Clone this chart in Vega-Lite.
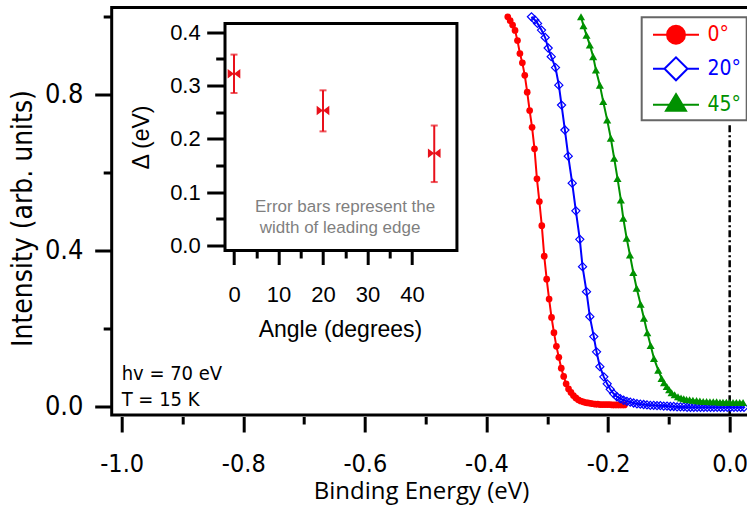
{
"$schema": "https://vega.github.io/schema/vega-lite/v6.json",
"width": 640, "height": 407.5,
"autosize": {"type": "none"},
"padding": {"left": 111.7, "top": 7.5, "right": 0, "bottom": 93},
"background": "white",
"config": {
 "view": {"stroke": "black", "strokeWidth": 3},
 "axis": {"domain": false, "grid": false, "labelFlush": false, "labelOverlap": false, "tickColor": "black", "tickWidth": 3, "labelColor": "black", "titleColor": "black", "titleFontWeight": "normal"}
},
"layer": [
 {
  "data": {"values": [
{"series":"0°","E":-0.365,"I":0.998},{"series":"0°","E":-0.361,"I":0.988},{"series":"0°","E":-0.357,"I":0.977},{"series":"0°","E":-0.353,"I":0.963},{"series":"0°","E":-0.349,"I":0.937},{"series":"0°","E":-0.345,"I":0.904},{"series":"0°","E":-0.341,"I":0.880},{"series":"0°","E":-0.337,"I":0.848},{"series":"0°","E":-0.333,"I":0.805},{"series":"0°","E":-0.329,"I":0.758},{"series":"0°","E":-0.325,"I":0.715},{"series":"0°","E":-0.321,"I":0.660},{"series":"0°","E":-0.317,"I":0.583},{"series":"0°","E":-0.313,"I":0.525},{"series":"0°","E":-0.309,"I":0.463},{"series":"0°","E":-0.305,"I":0.385},{"series":"0°","E":-0.301,"I":0.326},{"series":"0°","E":-0.297,"I":0.275},{"series":"0°","E":-0.293,"I":0.228},{"series":"0°","E":-0.289,"I":0.189},{"series":"0°","E":-0.285,"I":0.154},{"series":"0°","E":-0.281,"I":0.126},{"series":"0°","E":-0.277,"I":0.098},{"series":"0°","E":-0.273,"I":0.077},{"series":"0°","E":-0.269,"I":0.058},{"series":"0°","E":-0.265,"I":0.045},{"series":"0°","E":-0.261,"I":0.036},{"series":"0°","E":-0.257,"I":0.028},{"series":"0°","E":-0.253,"I":0.022},{"series":"0°","E":-0.249,"I":0.017},{"series":"0°","E":-0.245,"I":0.014},{"series":"0°","E":-0.241,"I":0.012},{"series":"0°","E":-0.237,"I":0.010},{"series":"0°","E":-0.233,"I":0.009},{"series":"0°","E":-0.229,"I":0.008},{"series":"0°","E":-0.225,"I":0.007},{"series":"0°","E":-0.221,"I":0.006},{"series":"0°","E":-0.217,"I":0.006},{"series":"0°","E":-0.213,"I":0.005},{"series":"0°","E":-0.209,"I":0.005},{"series":"0°","E":-0.205,"I":0.005},{"series":"0°","E":-0.201,"I":0.005},{"series":"0°","E":-0.197,"I":0.005},{"series":"0°","E":-0.193,"I":0.004},{"series":"0°","E":-0.189,"I":0.004},{"series":"0°","E":-0.185,"I":0.004},{"series":"0°","E":-0.181,"I":0.004},{"series":"0°","E":-0.177,"I":0.004},{"series":"0°","E":-0.173,"I":0.004},
{"series":"20°","E":-0.326,"I":0.998},{"series":"20°","E":-0.3205,"I":0.990},{"series":"20°","E":-0.316,"I":0.981},{"series":"20°","E":-0.3095,"I":0.964},{"series":"20°","E":-0.3035,"I":0.945},{"series":"20°","E":-0.2985,"I":0.918},{"series":"20°","E":-0.2935,"I":0.896},{"series":"20°","E":-0.2865,"I":0.868},{"series":"20°","E":-0.281,"I":0.823},{"series":"20°","E":-0.2765,"I":0.772},{"series":"20°","E":-0.271,"I":0.708},{"series":"20°","E":-0.2655,"I":0.641},{"series":"20°","E":-0.259,"I":0.572},{"series":"20°","E":-0.253,"I":0.501},{"series":"20°","E":-0.2465,"I":0.428},{"series":"20°","E":-0.242,"I":0.358},{"series":"20°","E":-0.2355,"I":0.294},{"series":"20°","E":-0.23,"I":0.230},{"series":"20°","E":-0.2235,"I":0.179},{"series":"20°","E":-0.219,"I":0.140},{"series":"20°","E":-0.2135,"I":0.102},{"series":"20°","E":-0.207,"I":0.076},{"series":"20°","E":-0.2015,"I":0.058},{"series":"20°","E":-0.1965,"I":0.044},{"series":"20°","E":-0.191,"I":0.033},{"series":"20°","E":-0.1855,"I":0.025},{"series":"20°","E":-0.18,"I":0.020},{"series":"20°","E":-0.1745,"I":0.016},{"series":"20°","E":-0.169,"I":0.013},{"series":"20°","E":-0.1635,"I":0.011},{"series":"20°","E":-0.158,"I":0.009},{"series":"20°","E":-0.1525,"I":0.007},{"series":"20°","E":-0.147,"I":0.006},{"series":"20°","E":-0.1415,"I":0.005},{"series":"20°","E":-0.136,"I":0.004},{"series":"20°","E":-0.1305,"I":0.003},{"series":"20°","E":-0.125,"I":0.003},{"series":"20°","E":-0.1195,"I":0.002},{"series":"20°","E":-0.114,"I":0.002},{"series":"20°","E":-0.1085,"I":0.001},{"series":"20°","E":-0.103,"I":0.001},{"series":"20°","E":-0.0975,"I":0.000},{"series":"20°","E":-0.092,"I":0.000},{"series":"20°","E":-0.0865,"I":-0.001},{"series":"20°","E":-0.081,"I":-0.001},{"series":"20°","E":-0.0755,"I":-0.001},{"series":"20°","E":-0.07,"I":-0.002},{"series":"20°","E":-0.0645,"I":-0.002},{"series":"20°","E":-0.059,"I":-0.002},{"series":"20°","E":-0.0535,"I":-0.002},{"series":"20°","E":-0.048,"I":-0.002},{"series":"20°","E":-0.0425,"I":-0.002},{"series":"20°","E":-0.037,"I":-0.002},{"series":"20°","E":-0.0315,"I":-0.002},{"series":"20°","E":-0.026,"I":-0.002},{"series":"20°","E":-0.0205,"I":-0.002},{"series":"20°","E":-0.015,"I":-0.002},{"series":"20°","E":-0.0095,"I":-0.002},{"series":"20°","E":-0.004,"I":-0.002},{"series":"20°","E":0.0015,"I":-0.002},{"series":"20°","E":0.007,"I":-0.002},{"series":"20°","E":0.0125,"I":-0.002},{"series":"20°","E":0.018,"I":-0.002},{"series":"20°","E":0.0235,"I":-0.002},
{"series":"45°","E":-0.2445,"I":0.998},{"series":"45°","E":-0.2405,"I":0.975},{"series":"45°","E":-0.2355,"I":0.951},{"series":"45°","E":-0.23,"I":0.926},{"series":"45°","E":-0.2245,"I":0.896},{"series":"45°","E":-0.22,"I":0.862},{"series":"45°","E":-0.2135,"I":0.823},{"series":"45°","E":-0.208,"I":0.781},{"series":"45°","E":-0.2015,"I":0.734},{"series":"45°","E":-0.1955,"I":0.687},{"series":"45°","E":-0.19,"I":0.636},{"series":"45°","E":-0.1845,"I":0.584},{"series":"45°","E":-0.179,"I":0.529},{"series":"45°","E":-0.175,"I":0.482},{"series":"45°","E":-0.1695,"I":0.431},{"series":"45°","E":-0.164,"I":0.388},{"series":"45°","E":-0.1585,"I":0.343},{"series":"45°","E":-0.153,"I":0.303},{"series":"45°","E":-0.1465,"I":0.262},{"series":"45°","E":-0.141,"I":0.226},{"series":"45°","E":-0.1355,"I":0.189},{"series":"45°","E":-0.13,"I":0.156},{"series":"45°","E":-0.1245,"I":0.123},{"series":"45°","E":-0.1175,"I":0.093},{"series":"45°","E":-0.112,"I":0.072},{"series":"45°","E":-0.108,"I":0.061},{"series":"45°","E":-0.1035,"I":0.051},{"series":"45°","E":-0.0995,"I":0.043},{"series":"45°","E":-0.0955,"I":0.035},{"series":"45°","E":-0.0905,"I":0.030},{"series":"45°","E":-0.085,"I":0.025},{"series":"45°","E":-0.08,"I":0.022},{"series":"45°","E":-0.0755,"I":0.020},{"series":"45°","E":-0.071,"I":0.018},{"series":"45°","E":-0.066,"I":0.017},{"series":"45°","E":-0.0605,"I":0.016},{"series":"45°","E":-0.0545,"I":0.015},{"series":"45°","E":-0.049,"I":0.014},{"series":"45°","E":-0.0435,"I":0.013},{"series":"45°","E":-0.038,"I":0.013},{"series":"45°","E":-0.0325,"I":0.012},{"series":"45°","E":-0.027,"I":0.012},{"series":"45°","E":-0.0215,"I":0.012},{"series":"45°","E":-0.016,"I":0.011},{"series":"45°","E":-0.011,"I":0.011},{"series":"45°","E":-0.0055,"I":0.011},{"series":"45°","E":0.0,"I":0.010},{"series":"45°","E":0.0055,"I":0.010},{"series":"45°","E":0.011,"I":0.010},{"series":"45°","E":0.0165,"I":0.010},{"series":"45°","E":0.022,"I":0.010}
  ]},
  "layer": [
   {
    "data": {"values": [{}]},
    "mark": {"type": "rule", "color": "black", "strokeWidth": 2.5, "strokeDash": [7, 3, 2, 3]},
    "encoding": {
     "x": {"datum": 0, "type": "quantitative"},
     "y": {"datum": 0.72, "type": "quantitative"},
     "y2": {"datum": -0.0218}
    }
   },
   {
    "mark": {"type": "line", "strokeWidth": 2},
    "encoding": {
     "x": {"field": "E", "type": "quantitative", "scale": {"domain": [-1.0164, 0.0362], "nice": false, "zero": false},
      "axis": {"orient": "bottom", "values": [-1, -0.9, -0.8, -0.7, -0.6, -0.5, -0.4, -0.3, -0.2, -0.1, 0], "offset": 1.5,
       "tickSize": {"condition": {"test": "round(datum.value*10) % 2 == 0", "value": 15.5}, "value": 7.5},
       "labelExpr": "round(datum.value*10) % 2 == 0 ? (datum.value < -0.001 ? '-' : '') + format(abs(datum.value), '.1f') : ''",
       "labelFont": "DejaVu Sans Condensed, sans-serif", "labelFontSize": 25, "labelPadding": 20,
       "title": "Binding Energy (eV)", "titleFont": "Open Sans, sans-serif", "titleFontSize": 24, "titleX": 309.3, "titleY": 75, "titleBaseline": "middle", "titleAlign": "center"}},
     "y": {"field": "I", "type": "quantitative", "scale": {"domain": [-0.0218, 1.0218], "nice": false, "zero": false},
      "axis": {"orient": "left", "values": [0, 0.2, 0.4, 0.6, 0.8, 1.0], "offset": 0,
       "tickSize": {"condition": {"test": "round(datum.value*10) % 4 == 0", "value": 17}, "value": 8.5},
       "labelExpr": "round(datum.value*10) % 4 == 0 ? format(datum.value, '.1f') : ''",
       "labelFont": "DejaVu Sans Condensed, sans-serif", "labelFontSize": 27, "labelPadding": 11.7,
       "title": "Intensity (arb. units)", "titleFont": "DejaVu Sans Condensed, sans-serif", "titleFontSize": 28, "titleX": -87.7, "titleY": 210.5, "titleAngle": 270, "titleBaseline": "middle", "titleAlign": "center"}},
     "color": {"field": "series", "type": "nominal",
      "scale": {"domain": ["0°", "20°", "45°"], "range": ["#ff0000", "#0000ff", "#009100"]},
      "legend": {"orient": "none", "legendX": 530, "legendY": 9.8, "title": null, "padding": 5,
       "strokeColor": "#666666", "fillColor": "white", "symbolSize": 529, "symbolOffset": 16.8, "symbolStrokeWidth": 2,
       "labelFont": "DejaVu Sans Condensed, sans-serif", "labelFontSize": 21, "labelOffset": 19, "labelBaseline": "middle", "rowPadding": 5,
       "encode": {
        "legend": {"update": {"strokeWidth": {"value": 2}}},
        "symbols": {"update": {
          "shape": {"signal": "datum.value === '0°' ? 'M-2,0L2,0M-0.78,0A0.78,0.78,0,1,0,0.78,0A0.78,0.78,0,1,0,-0.78,0Z' : datum.value === '20°' ? 'M-2,0L-1,0M1,0L2,0M-1,0L0,-1L1,0L0,1Z' : 'M-2,0L2,0M0,-0.93L0.87,0.52L-0.87,0.52Z'"},
          "fill": {"signal": "datum.value === '20°' ? '#ffffff' : scale('color', datum.value)"},
          "stroke": {"scale": "color", "field": "value"},
          "strokeWidth": {"value": 2},
          "opacity": {"value": 1}
        }},
        "labels": {"update": {"fill": {"scale": "color", "field": "value"}}}
       }}
     }
    }
   },
   {
    "transform": [{"filter": "datum.series == '0°'"}],
    "mark": {"type": "point", "shape": "circle", "filled": true, "color": "#ff0000", "size": 45, "opacity": 1},
    "encoding": {"x": {"field": "E", "type": "quantitative"}, "y": {"field": "I", "type": "quantitative"}}
   },
   {
    "transform": [{"filter": "datum.series == '20°'"}],
    "mark": {"type": "point", "shape": "diamond", "filled": false, "color": "#0000ff", "strokeWidth": 1.2, "size": 66, "opacity": 1},
    "encoding": {"x": {"field": "E", "type": "quantitative"}, "y": {"field": "I", "type": "quantitative"}}
   },
   {
    "transform": [{"filter": "datum.series == '45°'"}],
    "mark": {"type": "point", "shape": "triangle-up", "filled": true, "color": "#009100", "size": 66, "opacity": 1},
    "encoding": {"x": {"field": "E", "type": "quantitative"}, "y": {"field": "I", "type": "quantitative"}}
   },
   {
    "data": {"values": [{}]},
    "mark": {"type": "text", "text": "hv = 70 eV", "align": "left", "baseline": "alphabetic", "font": "DejaVu Sans Condensed, sans-serif", "fontSize": 20, "color": "black"},
    "encoding": {"x": {"datum": -1.0, "type": "quantitative"}, "y": {"datum": 0.068, "type": "quantitative"}}
   },
   {
    "data": {"values": [{}]},
    "mark": {"type": "text", "text": "T = 15 K", "align": "left", "baseline": "alphabetic", "font": "DejaVu Sans Condensed, sans-serif", "fontSize": 20, "color": "black"},
    "encoding": {"x": {"datum": -1.0, "type": "quantitative"}, "y": {"datum": 0.0, "type": "quantitative"}}
   }
  ]
 },
 {
  "data": {"values": [
   {"angle": 0, "delta": 0.322, "lo": 0.286, "hi": 0.358},
   {"angle": 20, "delta": 0.253, "lo": 0.214, "hi": 0.291},
   {"angle": 45, "delta": 0.173, "lo": 0.119, "hi": 0.225}
  ]},
  "layer": [
   {
    "data": {"values": [{}]},
    "mark": {"type": "rect", "fill": "white", "stroke": "black", "strokeWidth": 3},
    "encoding": {
     "x": {"datum": -2.02, "type": "quantitative", "scale": {"domain": [0, 40], "range": [122.3, 300.3], "nice": false, "zero": false},
      "axis": {"orient": "bottom", "offset": -163.5, "values": [0, 5, 10, 15, 20, 25, 30, 35, 40, 45],
       "tickSize": {"condition": {"test": "datum.value % 10 == 0 || datum.value == 45", "value": 13}, "value": 6.5},
       "labelExpr": "datum.value % 10 == 0 && datum.value <= 40 ? datum.label : ''",
       "labelFont": "Liberation Sans, Arial, sans-serif", "labelFontSize": 22, "labelPadding": 20,
       "title": "Angle (degrees)", "titleFont": "Liberation Sans, Arial, sans-serif", "titleFontSize": 23, "titleX": 228.3, "titleY": 78.5, "titleBaseline": "middle", "titleAlign": "center"}},
     "x2": {"datum": 50.1},
     "y": {"datum": -0.0094, "type": "quantitative", "scale": {"domain": [0, 0.4], "range": [238, 24.7], "nice": false, "zero": false},
      "axis": {"orient": "left", "offset": -112, "values": [0, 0.05, 0.1, 0.15, 0.2, 0.25, 0.3, 0.35, 0.4],
       "tickSize": {"condition": {"test": "round(datum.value*100) % 10 == 0", "value": 17}, "value": 8},
       "labelExpr": "round(datum.value*100) % 10 == 0 ? format(datum.value, '.1f') : ''",
       "labelFont": "Liberation Sans, Arial, sans-serif", "labelFontSize": 22, "labelPadding": 6.5,
       "title": "Δ (eV)", "titleFont": "Liberation Sans, Arial, sans-serif", "titleFontSize": 23, "titleX": -82.5, "titleY": 129.5, "titleAngle": 270, "titleBaseline": "middle", "titleAlign": "center"}},
     "y2": {"datum": 0.4163}
    }
   },
   {
    "mark": {"type": "rule", "color": "#e8101a", "strokeWidth": 2},
    "encoding": {"x": {"field": "angle", "type": "quantitative"}, "y": {"field": "lo", "type": "quantitative"}, "y2": {"field": "hi"}}
   },
   {
    "mark": {"type": "tick", "orient": "horizontal", "color": "#e8101a", "size": 7, "thickness": 2},
    "encoding": {"x": {"field": "angle", "type": "quantitative"}, "y": {"field": "lo", "type": "quantitative"}}
   },
   {
    "mark": {"type": "tick", "orient": "horizontal", "color": "#e8101a", "size": 7, "thickness": 2},
    "encoding": {"x": {"field": "angle", "type": "quantitative"}, "y": {"field": "hi", "type": "quantitative"}}
   },
   {
    "mark": {"type": "point", "shape": "M-1,-0.75L1,0.75L1,-0.75L-1,0.75Z", "filled": true, "color": "#e8101a", "size": 160, "opacity": 1},
    "encoding": {"x": {"field": "angle", "type": "quantitative"}, "y": {"field": "delta", "type": "quantitative"}}
   },
   {
    "data": {"values": [{}]},
    "mark": {"type": "text", "text": "Error bars represent the", "align": "left", "baseline": "alphabetic", "font": "Liberation Sans, Arial, sans-serif", "fontSize": 17, "color": "#7f7f7f"},
    "encoding": {"x": {"datum": 4.7, "type": "quantitative"}, "y": {"datum": 0.062, "type": "quantitative"}}
   },
   {
    "data": {"values": [{}]},
    "mark": {"type": "text", "text": "width of leading edge", "align": "left", "baseline": "alphabetic", "font": "Liberation Sans, Arial, sans-serif", "fontSize": 17, "color": "#7f7f7f"},
    "encoding": {"x": {"datum": 5.8, "type": "quantitative"}, "y": {"datum": 0.024, "type": "quantitative"}}
   }
  ]
 }
],
"resolve": {"scale": {"x": "independent", "y": "independent"}, "axis": {"x": "independent", "y": "independent"}}
}
